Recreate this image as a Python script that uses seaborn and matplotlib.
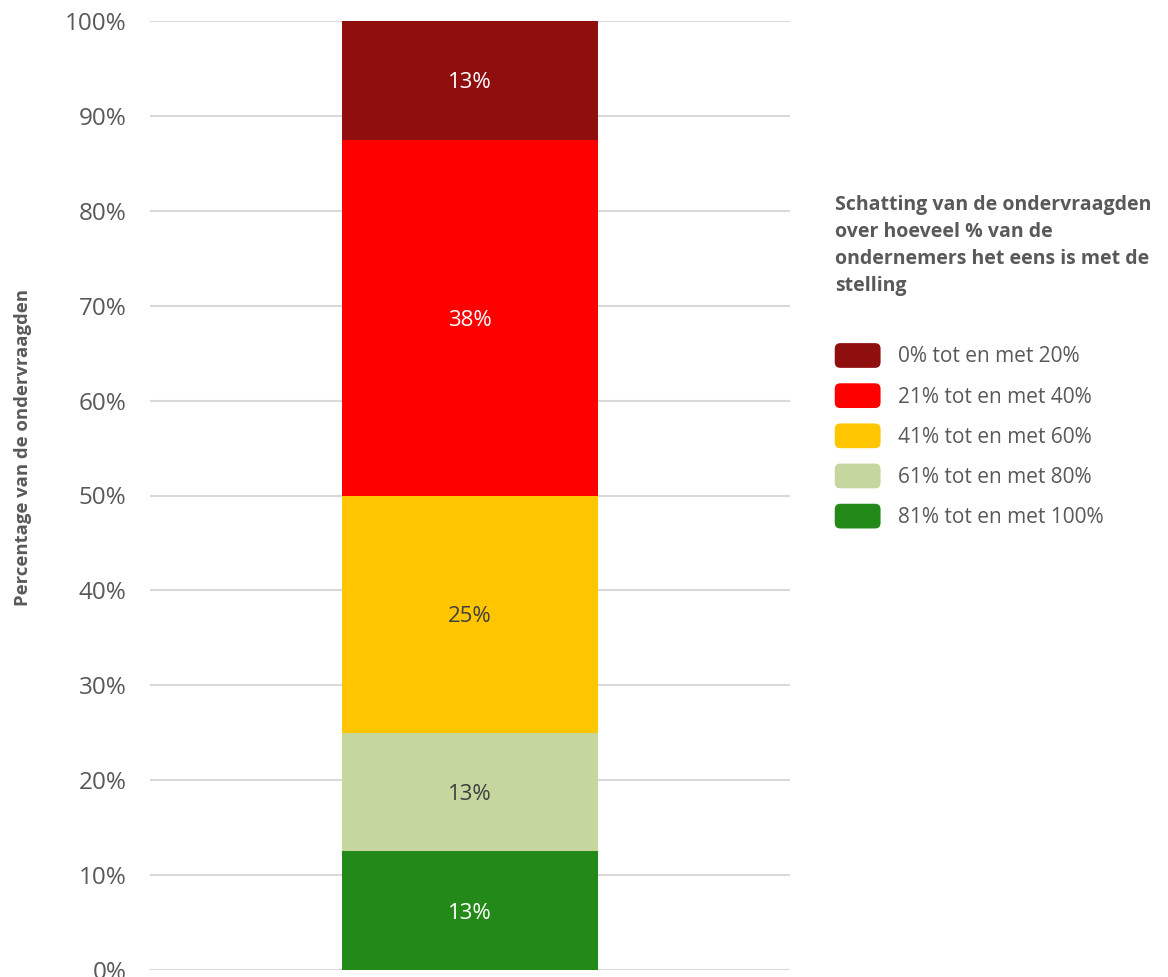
import math
import matplotlib
matplotlib.use("Agg")
import matplotlib.pyplot as plt
from matplotlib.legend_handler import HandlerPatch
from matplotlib.patches import FancyBboxPatch
import seaborn as sns

# Data (bottom of the stack first)
categories = ["81% tot en met 100%", "61% tot en met 80%", "41% tot en met 60%",
              "21% tot en met 40%", "0% tot en met 20%"]
shares = [12.5, 12.5, 25.0, 37.5, 12.5]
colors = ["#238A19", "#C5D79F", "#FFC600", "#FF0000", "#8F0F0F"]
label_colors = ["white", "#404040", "#404040", "white", "white"]
y_ticks = list(range(0, 101, 10))

sns.set_theme(style="white")
plt.rcParams["font.family"] = ["Open Sans", "DejaVu Sans"]
gray = "#595959"


class RoundedHandler(HandlerPatch):
    # rounded legend swatches, like the Excel original
    def create_artists(self, legend, orig_handle, xdescent, ydescent,
                       width, height, fontsize, trans):
        src = orig_handle.patches[0] if hasattr(orig_handle, "patches") else orig_handle
        p = FancyBboxPatch((-xdescent, -ydescent), width, height,
                           boxstyle="round,pad=0,rounding_size=4",
                           facecolor=src.get_facecolor(),
                           edgecolor="none", transform=trans)
        return [p]


fig = plt.figure(figsize=(11.68, 9.77), dpi=100)
ax = fig.add_axes([150 / 1168, 7 / 977, 640 / 1168, 949 / 977])

bottom = 0
for cat, val, col, lc in zip(categories, shares, colors, label_colors):
    sns.barplot(x=[""], y=[val], bottom=bottom, color=col, width=0.4,
                saturation=1, ax=ax, label=cat, zorder=3, linewidth=0)
    ax.text(0, bottom + val / 2, f"{math.floor(val + 0.5)}%", ha="center",
            va="center_baseline", color=lc, fontsize=16, zorder=4)
    bottom += val

ax.set_xlim(-0.5, 0.5)
ax.set_ylim(0, 100)
ax.set_yticks(y_ticks)
ax.set_yticklabels([f"{t}%" for t in y_ticks])
ax.tick_params(axis="y", length=0, pad=17, labelsize=17.5, labelcolor=gray)
ax.set_xticks([])
ax.set_xlabel("")
ax.grid(axis="y", color="#D9D9D9", linewidth=1.5, zorder=0)
for s in ax.spines.values():
    s.set_visible(False)

ax.set_ylabel("Percentage van de ondervraagden", fontsize=13.3, fontweight="bold",
              color=gray)
ax.yaxis.set_label_coords(-0.185, 0.551)

handles, labels = ax.get_legend_handles_labels()
if ax.get_legend() is not None:
    ax.get_legend().remove()
leg = fig.legend(handles[::-1], labels[::-1], loc="upper left",
                 bbox_to_anchor=(816 / 1168, 1 - 176 / 977), frameon=False,
                 title="Schatting van de ondervraagden\nover hoeveel % van de\n"
                       "ondernemers het eens is met de\nstelling",
                 fontsize=15, title_fontproperties={"weight": "bold", "size": 14},
                 alignment="left", handlelength=2.2, handleheight=1.45,
                 labelspacing=0.74, handletextpad=0.85,
                 handler_map={h: RoundedHandler() for h in handles})
leg.get_title().set_color(gray)
leg.get_title().set_linespacing(1.47)
for t in leg.get_texts():
    t.set_color(gray)
leg._legend_box.sep = 34

fig.savefig("out.png", dpi=100)
